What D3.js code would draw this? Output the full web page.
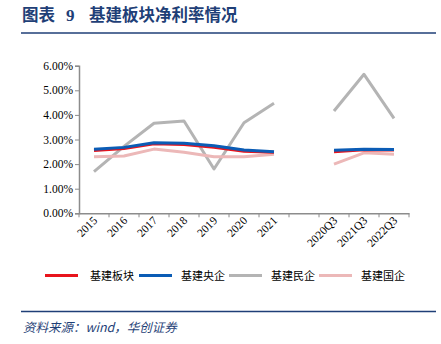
<!DOCTYPE html>
<html><head><meta charset="utf-8">
<script src="https://cdn.jsdelivr.net/npm/d3@7"></script>
<style>
body{margin:0;background:#fff;}
svg{display:block;}
</style></head>
<body>
<svg id="c" width="441" height="344"></svg>
<script>
const categories = ["2015","2016","2017","2018","2019","2020","2021","","2020Q3","2021Q3","2022Q3"];
const seriesNames = ["基建板块","基建央企","基建民企","基建国企"];
const sector  = [2.55,2.63,2.83,2.80,2.68,2.52,2.48,null,2.50,2.58,2.57];
const central = [2.60,2.68,2.87,2.85,2.75,2.57,2.50,null,2.56,2.60,2.59];
const privateE= [1.69,2.72,3.66,3.75,1.80,3.68,4.47,null,4.16,5.65,3.86];
const stateE  = [2.30,2.33,2.61,2.48,2.30,2.30,2.40,null,2.00,2.46,2.40];
const yTicks = [0,1,2,3,4,5,6];
const colors = ["#E8141C","#0B5CB5","#B4B4B4","#ECB8B8"];

const svg = d3.select("#c");
const serif = "'Liberation Serif','Times New Roman',serif";
const cjk = "'Noto Sans CJK SC',sans-serif";
const navy = "#1F3F77";

// title
svg.append("text").attr("x",22).attr("y",21).attr("font-family",cjk).attr("font-weight","bold")
  .attr("font-size",16.5).attr("fill",navy).text("图表");
svg.append("text").attr("x",66).attr("y",21).attr("font-family",serif).attr("font-weight","bold")
  .attr("font-size",17).attr("fill",navy).text("9");
svg.append("text").attr("x",89).attr("y",21).attr("font-family",cjk).attr("font-weight","bold")
  .attr("font-size",16.5).attr("fill",navy).text("基建板块净利率情况");
svg.append("line").attr("x1",21).attr("x2",436).attr("y1",33).attr("y2",33).attr("stroke",navy).attr("stroke-width",1.5);
svg.append("line").attr("x1",21).attr("x2",436).attr("y1",311.5).attr("y2",311.5).attr("stroke",navy).attr("stroke-width",1.5);
svg.append("text").attr("x",23).attr("y",332).attr("font-family",cjk).attr("font-style","italic")
  .attr("font-size",12.5).attr("fill",navy).text("资料来源：wind，华创证券");

const x = d3.scaleBand().domain(categories.map((c,i)=>i)).range([79,409]);
const y = d3.scaleLinear().domain([0,6]).range([213.3,65.7]);

const axisColor = "#8c8c8c";
// y axis
const ya = svg.append("g").attr("transform","translate(79,0)")
  .call(d3.axisLeft(y).tickValues(yTicks).tickSize(4).tickFormat(d=>d.toFixed(2)+"%"));
ya.select(".domain").attr("stroke",axisColor).attr("stroke-width",1.5);
ya.selectAll(".tick line").attr("stroke",axisColor);
ya.selectAll(".tick text").attr("font-family",serif).attr("font-size",11.5).attr("fill","#000").attr("x",-6);

// x axis
const xa = svg.append("g").attr("transform","translate(0,213.3)")
  .call(d3.axisBottom(x).tickSize(0).tickFormat(i=>categories[i]));
xa.select(".domain").attr("stroke",axisColor).attr("stroke-width",1.5);
xa.selectAll(".tick text").attr("font-family",serif).attr("font-size",11.5).attr("fill","#000")
  .attr("text-anchor","end").attr("dy","0").attr("y",0)
  .attr("transform","translate(4,8) rotate(-45)");
// band boundary ticks
const bounds = categories.map((c,i)=>x(i)).concat([x(categories.length-1)+x.bandwidth()]);
xa.selectAll(".bt").data(bounds).enter().append("line").attr("class","bt")
  .attr("x1",d=>d).attr("x2",d=>d).attr("y1",0).attr("y2",4).attr("stroke",axisColor);

const series = [sector, central, privateE, stateE];
const line = d3.line().defined(d=>d!=null).x((d,i)=>x(i)+x.bandwidth()/2).y(d=>y(d));
const order = [2,3,0,1];
order.forEach(k=>{
  svg.append("path").datum(series[k]).attr("d",line).attr("fill","none")
    .attr("stroke",colors[k]).attr("stroke-width",3).attr("stroke-linejoin","round");
});

// legend
const legX = [45,139,229,319];
const legTX = [90,181,271,361];
seriesNames.forEach((n,k)=>{
  svg.append("line").attr("x1",legX[k]).attr("x2",legX[k]+33).attr("y1",275.5).attr("y2",275.5)
    .attr("stroke",colors[k]).attr("stroke-width",3);
  svg.append("text").attr("x",legTX[k]).attr("y",280).attr("font-family",cjk)
    .attr("font-size",11).attr("fill","#000").text(n);
});
</script>
</body></html>
